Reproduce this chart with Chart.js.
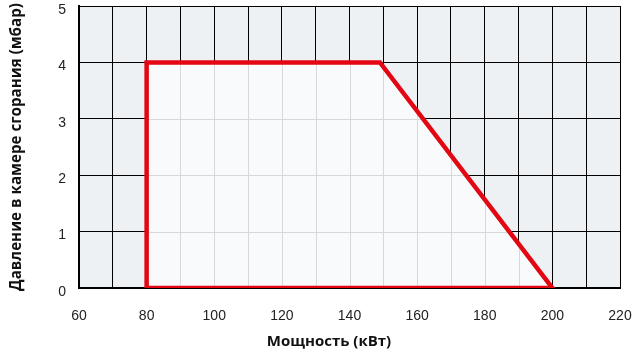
<!DOCTYPE html>
<html><head><meta charset="utf-8">
<script src="https://cdn.jsdelivr.net/npm/chart.js@4/dist/chart.umd.min.js"></script>
<style>html,body{margin:0;padding:0;background:#fff}#wrap{width:634px;height:356px}</style>
</head><body><div id="wrap"><canvas id="c"></canvas></div>
<script>
const xTickValues = [60, 80, 100, 120, 140, 160, 180, 200, 220];
const yTickValues = [0, 1, 2, 3, 4, 5];
const envelopeX = [80, 80, 149, 200, 80];
const envelopeY = [0, 4, 4, 0, 0];
const xTitle = 'Мощность (кВт)';
const yTitle = 'Давление в камере сгорания (мбар)';

const makePoints = () => envelopeX.map((x, i) => ({x: x, y: envelopeY[i]}));

const bgPlugin = {
  id: 'bg',
  beforeDraw(chart) {
    const {ctx, chartArea: a} = chart;
    ctx.save();
    ctx.fillStyle = '#edf1f4';
    ctx.fillRect(a.left, a.top, a.right - a.left, a.bottom - a.top);
    ctx.restore();
  },
  afterDatasetDraw(chart, args) {
    const ds = chart.data.datasets[args.index];
    if (!ds || !ds.envelopeFill) return;
    const {ctx, chartArea: a} = chart;
    const xs = chart.scales.x, ys = chart.scales.y;
    ctx.save();
    ctx.beginPath();
    envelopeX.forEach((x, i) => {
      const px = xs.getPixelForValue(x), py = ys.getPixelForValue(envelopeY[i]);
      if (i === 0) ctx.moveTo(px, py); else ctx.lineTo(px, py);
    });
    ctx.closePath();
    ctx.fillStyle = ds.backgroundColor;
    ctx.fill();
    ctx.clip();
    ctx.strokeStyle = '#d8d8d8';
    ctx.lineWidth = 1;
    ctx.beginPath();
    xs.ticks.forEach(t => {
      const px = Math.round(xs.getPixelForValue(t.value)) + 0.5;
      ctx.moveTo(px, a.top); ctx.lineTo(px, a.bottom);
    });
    ys.ticks.forEach(t => {
      const py = Math.round(ys.getPixelForValue(t.value)) + 0.5;
      ctx.moveTo(a.left, py); ctx.lineTo(a.right, py);
    });
    ctx.stroke();
    ctx.restore();
  }
};

new Chart(document.getElementById('c'), {
  type: 'scatter',
  data: {
    datasets: [
      {
        data: makePoints(), envelopeFill: true, showLine: true,
        borderColor: 'rgba(0,0,0,0)', borderWidth: 1, pointRadius: 0,
        backgroundColor: '#f9fafc', fill: 'origin', tension: 0, order: 2
      },
      {
        data: makePoints(), showLine: true, borderColor: '#e30613', borderWidth: 4.5, pointRadius: 0,
        backgroundColor: 'rgba(0,0,0,0)', fill: false, tension: 0, borderJoinStyle: 'miter', clip: 0, order: 1
      }
    ]
  },
  options: {
    responsive: true, maintainAspectRatio: false, animation: false,
    layout: {padding: {top: 6, right: 14, left: 38, bottom: 5}},
    plugins: {
      legend: {display: false}, tooltip: {enabled: false},
      title: {display: true, position: 'bottom', text: xTitle, color: '#111',
        font: {family: 'Open Sans', size: 15, weight: 'bold'}, padding: {top: 0, bottom: 0}}
    },
    scales: {
      x: {
        type: 'linear', min: 60, max: 220,
        afterFit: s => { s.height = 45; s.paddingLeft = 0; s.paddingRight = 0; },
        ticks: {
          stepSize: 10, autoSkip: false, color: '#222',
          font: {family: 'Liberation Sans', size: 14}, padding: 20, maxRotation: 0,
          callback: v => xTickValues.includes(v) ? String(v) : ''
        },
        grid: {color: '#000', lineWidth: 1, drawTicks: false},
        border: {color: '#000', width: 2}
      },
      y: {
        type: 'linear', min: 0, max: 5,
        afterFit: s => { s.width = 41; s.paddingTop = 0; s.paddingBottom = 0; },
        ticks: {
          stepSize: 1, color: '#222', labelOffset: 4,
          font: {family: 'Liberation Sans', size: 14}, padding: 13,
          callback: v => yTickValues.includes(v) ? String(v) : ''
        },
        grid: {color: '#000', lineWidth: 1, drawTicks: false},
        border: {color: '#000', width: 2},
        title: {display: true, text: yTitle, color: '#111',
          font: {family: 'Open Sans', size: 15.2, weight: 'bold'}, padding: {top: -30, bottom: 0}}
      }
    }
  },
  plugins: [bgPlugin]
});
</script></body></html>
